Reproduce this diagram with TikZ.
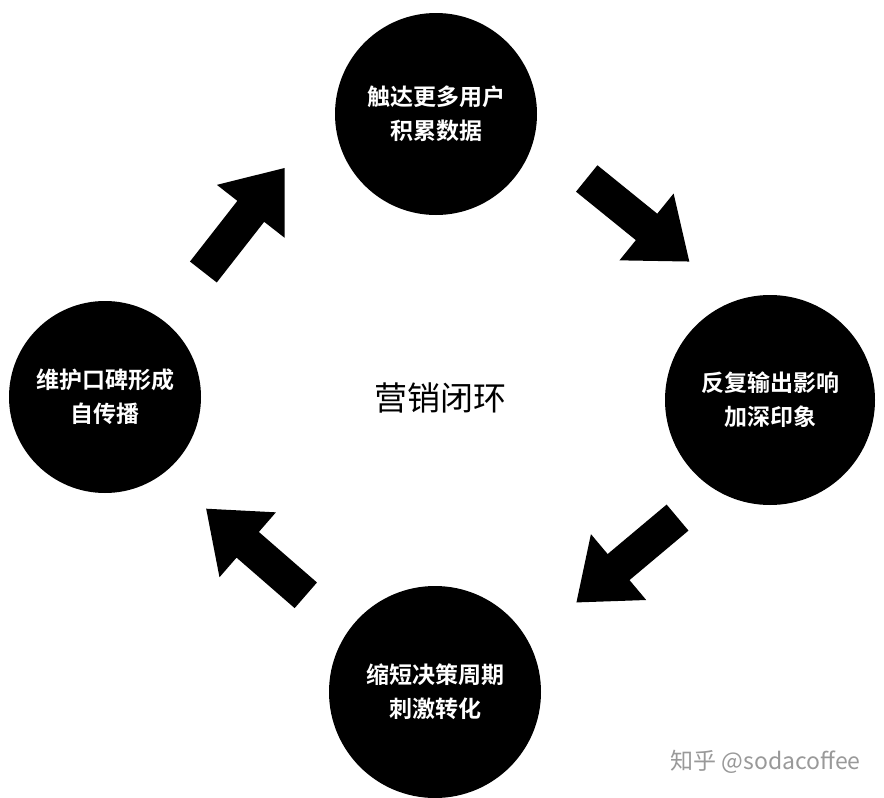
\documentclass[tikz,border=0pt]{standalone}
\usepackage{fontspec}
\newfontfamily\cjkb{Noto Sans CJK SC Bold}
\newfontfamily\cjk{Noto Sans CJK SC}
\begin{document}
\begin{tikzpicture}[x=1pt,y=-1pt,
  bub/.style={circle,fill=black,text=white,font=\cjkb\fontsize{23}{34}\selectfont,align=center,inner sep=0}]
\useasboundingbox[fill=white] (0,0) rectangle (884,798);
\node[bub,minimum size=202pt] (t) at (436,114) {触达更多用户\\积累数据};
\node[bub,minimum size=210pt] (r) at (770,400) {反复输出影响\\加深印象};
\node[bub,minimum size=192pt] (l) at (105,397) {维护口碑形成\\自传播};
\node[bub,minimum size=212pt] (b) at (435,692) {缩短决策周期\\刺激转化};
\node[font=\cjk\fontsize{33}{38}\selectfont] (c) at (440,398) {营销闭环};
\foreach \px/\py/\a in {244/220/52,638/220/-39,627/560/-140,256/552/139}{
  \begin{scope}[shift={(\px pt,-\py pt)},rotate=\a]
    \fill (-66,-17) -- (11,-17) -- (11,-43) -- (66,0) -- (11,43) -- (11,17) -- (-66,17) -- cycle;
  \end{scope}
}
\node[font=\cjk\fontsize{23}{26}\selectfont,text=black!40,anchor=east] (w) at (864,762) {知乎 @sodacoffee};
\end{tikzpicture}
\end{document}
